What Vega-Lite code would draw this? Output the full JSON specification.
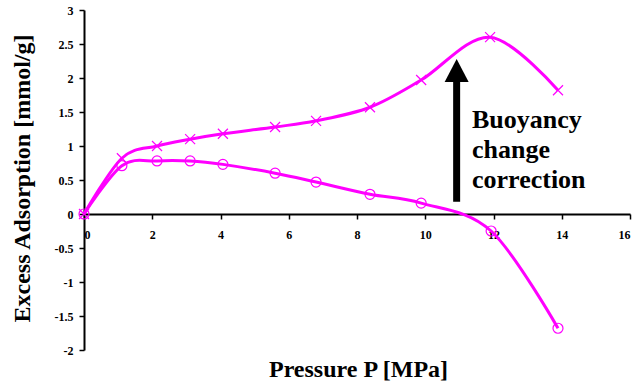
{
  "$schema": "https://vega.github.io/schema/vega-lite/v6.json",
  "width": 546,
  "height": 340,
  "autosize": "none",
  "padding": {"left": 84, "top": 10, "right": 8, "bottom": 33},
  "background": "white",
  "config": {
    "view": {"stroke": null},
    "font": "Liberation Serif",
    "axis": {
      "grid": false,
      "domainColor": "black",
      "domainWidth": 2,
      "tickColor": "black",
      "tickWidth": 1.5,
      "tickSize": 5,
      "labelOverlap": false,
      "labelFont": "Liberation Serif",
      "labelFontWeight": "bold",
      "labelFontSize": 12,
      "labelColor": "black",
      "titleFont": "Liberation Serif",
      "titleFontWeight": "bold",
      "titleFontSize": 24,
      "titleColor": "black"
    }
  },
  "datasets": {
    "series": [
      {"P": 0, "A": 0, "series": "corrected"},
      {"P": 1.11, "A": 0.82, "series": "corrected"},
      {"P": 2.14, "A": 1.0, "series": "corrected"},
      {"P": 3.11, "A": 1.1, "series": "corrected"},
      {"P": 4.07, "A": 1.18, "series": "corrected"},
      {"P": 5.6, "A": 1.28, "series": "corrected"},
      {"P": 6.8, "A": 1.37, "series": "corrected"},
      {"P": 8.38, "A": 1.57, "series": "corrected"},
      {"P": 9.88, "A": 1.97, "series": "corrected"},
      {"P": 11.9, "A": 2.6, "series": "corrected"},
      {"P": 13.89, "A": 1.82, "series": "corrected"},
      {"P": 0, "A": 0, "series": "uncorrected"},
      {"P": 1.11, "A": 0.71, "series": "uncorrected"},
      {"P": 2.14, "A": 0.78, "series": "uncorrected"},
      {"P": 3.11, "A": 0.78, "series": "uncorrected"},
      {"P": 4.07, "A": 0.73, "series": "uncorrected"},
      {"P": 5.6, "A": 0.6, "series": "uncorrected"},
      {"P": 6.8, "A": 0.47, "series": "uncorrected"},
      {"P": 8.38, "A": 0.29, "series": "uncorrected"},
      {"P": 9.88, "A": 0.16, "series": "uncorrected"},
      {"P": 11.93, "A": -0.25, "series": "uncorrected"},
      {"P": 13.89, "A": -1.68, "series": "uncorrected"}
    ],
    "arrow": [
      {"x": 10.92, "y1": 0.18, "y2": 1.95, "head": 2.11}
    ],
    "label": [
      {"x": 11.37, "y": 1.265, "text": "Buoyancy\nchange\ncorrection"}
    ]
  },
  "encoding": {
    "x": {
      "field": "P", "type": "quantitative",
      "scale": {"domain": [0, 16], "nice": false},
      "axis": {
        "values": [0, 2, 4, 6, 8, 10, 12, 14, 16],
        "offset": -136,
        "labelPadding": 10,
        "title": "Pressure P [MPa]",
        "titleX": 274,
        "titleY": 162,
        "titleAnchor": "middle",
        "titleAlign": "center",
        "titleBaseline": "alphabetic"
      }
    },
    "y": {
      "field": "A", "type": "quantitative",
      "scale": {"domain": [-2, 3], "nice": false, "zero": false},
      "axis": {
        "values": [-2, -1.5, -1, -0.5, 0, 0.5, 1, 1.5, 2, 2.5, 3],
        "labelExpr": "'' + datum.value",
        "labelPadding": 6,
        "title": "Excess Adsorption [mmol/g]",
        "titleX": -55,
        "titleY": 168,
        "titleAngle": -90,
        "titleAlign": "center",
        "titleBaseline": "alphabetic"
      }
    }
  },
  "layer": [
    {
      "data": {"name": "series"},
      "mark": {"type": "line", "interpolate": "cardinal", "tension": 0, "color": "#FF00FF", "strokeWidth": 3},
      "encoding": {
        "detail": {"field": "series"}
      }
    },
    {
      "data": {"name": "series"},
      "mark": {"type": "point", "filled": false, "strokeWidth": 1.2, "color": "#FF00FF", "size": 100, "opacity": 1},
      "encoding": {
        "shape": {
          "field": "series", "type": "nominal",
          "scale": {"domain": ["corrected", "uncorrected"], "range": ["M-1,-1L1,1M-1,1L1,-1", "circle"]},
          "legend": null
        }
      }
    },
    {
      "data": {"name": "arrow"},
      "mark": {"type": "rule", "color": "black", "strokeWidth": 7, "strokeCap": "butt"},
      "encoding": {
        "x": {"field": "x", "type": "quantitative"},
        "y": {"field": "y1", "type": "quantitative"},
        "y2": {"field": "y2"}
      }
    },
    {
      "data": {"name": "arrow"},
      "mark": {"type": "point", "shape": "M-1,0.95L0,-0.95L1,0.95Z", "filled": true, "color": "black", "size": 576, "opacity": 1, "strokeWidth": 0},
      "encoding": {
        "x": {"field": "x", "type": "quantitative"},
        "y": {"field": "head", "type": "quantitative"}
      }
    },
    {
      "data": {"name": "label"},
      "mark": {"type": "text", "align": "left", "baseline": "alphabetic", "font": "Liberation Serif", "fontWeight": "bold", "fontSize": 26, "lineHeight": 30, "lineBreak": "\n", "color": "black"},
      "encoding": {
        "x": {"field": "x", "type": "quantitative"},
        "y": {"field": "y", "type": "quantitative"},
        "text": {"field": "text"}
      }
    }
  ]
}
